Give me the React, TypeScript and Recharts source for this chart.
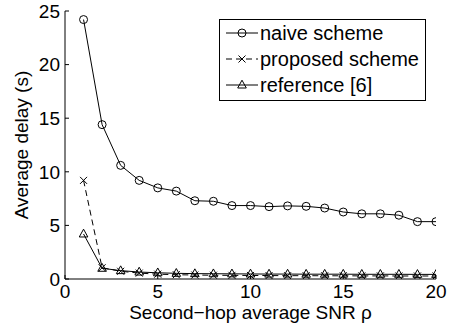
import React from 'react';
import { LineChart, Line, XAxis, YAxis, Legend } from 'recharts';

const snr = [1, 2, 3, 4, 5, 6, 7, 8, 9, 10, 11, 12, 13, 14, 15, 16, 17, 18, 19, 20];
const naive = [24.2, 14.4, 10.6, 9.2, 8.5, 8.2, 7.3, 7.25, 6.85, 6.85, 6.75, 6.82, 6.78, 6.62, 6.25, 6.08, 6.08, 5.95, 5.35, 5.35];
const proposed = [9.2, 1.05, 0.72, 0.55, 0.45, 0.4, 0.37, 0.35, 0.34, 0.33, 0.32, 0.31, 0.31, 0.3, 0.3, 0.29, 0.29, 0.28, 0.28, 0.28];
const reference = [4.2, 1.0, 0.78, 0.65, 0.58, 0.53, 0.5, 0.49, 0.48, 0.47, 0.46, 0.46, 0.45, 0.45, 0.45, 0.44, 0.44, 0.44, 0.43, 0.43];
const xTicks = [0, 5, 10, 15, 20];
const yTicks = [0, 5, 10, 15, 20, 25];
const seriesNames = ['naive scheme', 'proposed scheme', 'reference [6]'];

const data = snr.map((x, i) => ({ x, naive: naive[i], proposed: proposed[i], reference: reference[i] }));

const FONT = '"Liberation Sans", Arial, Helvetica, sans-serif';
const FS = 19;
const LFS = 20;

const circleMark = (cx: number, cy: number, key?: any) => (
  <circle key={key} cx={cx} cy={cy} r={4} fill="none" stroke="#000" strokeWidth={1} />
);
const crossMark = (cx: number, cy: number, key?: any) => (
  <g key={key} stroke="#000" strokeWidth={1}>
    <line x1={cx - 3.5} y1={cy - 3.5} x2={cx + 3.5} y2={cy + 3.5} />
    <line x1={cx - 3.5} y1={cy + 3.5} x2={cx + 3.5} y2={cy - 3.5} />
  </g>
);
const triMark = (cx: number, cy: number, key?: any) => (
  <polygon key={key} points={`${cx},${cy - 4.8} ${cx - 4.3},${cy + 3} ${cx + 4.3},${cy + 3}`} fill="none" stroke="#000" strokeWidth={1} />
);

const BottomTick = (props: any) => {
  const { x, y, payload } = props;
  return (
    <g>
      <line x1={x} y1={y - 6} x2={x} y2={y - 10} stroke="#000" strokeWidth={1} />
      <text x={x} y={y} dy="0.71em" textAnchor="middle" fontFamily={FONT} fontSize={FS} fill="#000">{payload.value}</text>
    </g>
  );
};
const LeftTick = (props: any) => {
  const { x, y, payload } = props;
  return (
    <g>
      <line x1={x + 5} y1={y} x2={x + 9} y2={y} stroke="#000" strokeWidth={1} />
      <text x={x} y={y} dy="0.355em" textAnchor="end" fontFamily={FONT} fontSize={FS} fill="#000">{payload.value}</text>
    </g>
  );
};
const TopTick = (props: any) => {
  const { x, y } = props;
  return <line x1={x} y1={y} x2={x} y2={y + 4} stroke="#000" strokeWidth={1} />;
};
const RightTick = (props: any) => {
  const { x, y } = props;
  return <line x1={x} y1={y} x2={x - 4} y2={y} stroke="#000" strokeWidth={1} />;
};

const markers = [circleMark, crossMark, triMark];
const dashes = [undefined, '6 4', undefined];

const renderLegend = () => (
  <svg width={207} height={82} style={{ display: 'block' }}>
    <rect x={0.5} y={0.5} width={206} height={81} fill="#fff" stroke="#000" strokeWidth={1} />
    {seriesNames.map((name, i) => {
      const yy = 14 + i * 26;
      return (
        <g key={name}>
          <line x1={7} y1={yy} x2={39} y2={yy} stroke="#000" strokeWidth={1} strokeDasharray={dashes[i]} />
          {markers[i](23, yy)}
          <text x={41} y={yy} dy="0.355em" fontFamily={FONT} fontSize={LFS} fill="#000">{name}</text>
        </g>
      );
    })}
  </svg>
);

export default function App() {
  return (
    <div style={{ position: 'absolute', left: 0, top: 0, width: 455, height: 325, background: '#fff' }}>
      <LineChart width={455} height={325} data={data} margin={{ top: 11, right: 19, bottom: 0, left: 0 }}>
        <XAxis dataKey="x" type="number" domain={[0, 20]} ticks={xTicks} allowDataOverflow
          height={46} tickSize={0} tickMargin={6} tickLine={false} tick={<BottomTick />}
          axisLine={{ stroke: '#000', strokeWidth: 1 }} interval={0}
          label={{ value: 'Second\u2212hop average SNR \u03c1', position: 'insideBottom', offset: 6, fontFamily: FONT, fontSize: FS, fill: '#000' }} />
        <XAxis xAxisId="t" orientation="top" dataKey="x" type="number" domain={[0, 20]} ticks={xTicks} allowDataOverflow
          height={0} tickSize={0} tickMargin={0} tickLine={false} tick={<TopTick />} interval={0}
          axisLine={{ stroke: '#000', strokeWidth: 1 }} />
        <YAxis type="number" domain={[0, 25]} ticks={yTicks} allowDataOverflow width={65}
          tickSize={0} tickMargin={5} tickLine={false} tick={<LeftTick />} interval={0}
          axisLine={{ stroke: '#000', strokeWidth: 1 }}
          label={{ value: 'Average delay (s)', angle: -90, position: 'insideLeft', offset: 21, style: { textAnchor: 'middle' }, fontFamily: FONT, fontSize: FS, fill: '#000' }} />
        <YAxis yAxisId="r" orientation="right" type="number" domain={[0, 25]} ticks={yTicks} allowDataOverflow width={0}
          tickSize={0} tickMargin={0} tickLine={false} tick={<RightTick />} interval={0}
          axisLine={{ stroke: '#000', strokeWidth: 1 }} />
        <Legend layout="horizontal" verticalAlign="middle" align="center" content={renderLegend}
          wrapperStyle={{ left: 219, top: 19, width: 207, height: 82 }} />
        <Line dataKey="naive" stroke="#000" strokeWidth={1} isAnimationActive={false}
          dot={(p: any) => circleMark(p.cx, p.cy, p.index)} activeDot={false} />
        <Line dataKey="proposed" stroke="#000" strokeWidth={1} strokeDasharray="6 4" isAnimationActive={false}
          dot={(p: any) => crossMark(p.cx, p.cy, p.index)} activeDot={false} />
        <Line dataKey="reference" stroke="#000" strokeWidth={1} isAnimationActive={false}
          dot={(p: any) => triMark(p.cx, p.cy, p.index)} activeDot={false} />
      </LineChart>
    </div>
  );
}
